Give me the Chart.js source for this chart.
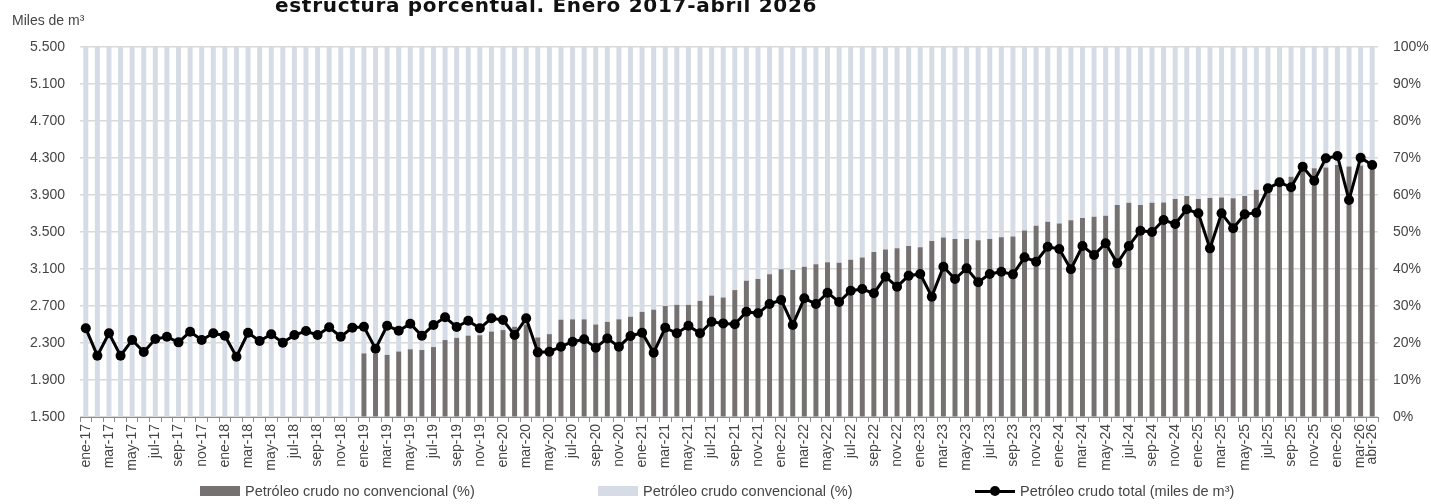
<!DOCTYPE html>
<html lang="es">
<head>
<meta charset="utf-8">
<title>Producción de petróleo crudo</title>
<script src="https://cdn.jsdelivr.net/npm/chart.js@4.4.1/dist/chart.umd.min.js"></script>
<style>
  html, body { margin: 0; padding: 0; background: #fff; }
  body { width: 1431px; height: 504px; overflow: hidden; position: relative;
         font-family: 'Liberation Sans', Arial, sans-serif; color: #454545; }
  #wrap { position: absolute; left: 0; top: 0; width: 1431px; height: 504px; }
  #titulo { position: absolute; left: 275px; top: -5px; font: 700 20px/20px 'DejaVu Sans', sans-serif;
            letter-spacing: 0.7px; color: #111; white-space: nowrap; }
  #unidad { position: absolute; left: 12px; top: 12px; font-size: 14px; }
  #leyenda { position: absolute; left: 200px; top: 483px; display: flex; font-size: 14.5px; }
  #leyenda .item { display: flex; align-items: center; white-space: nowrap; }
  #leyenda .caja { width: 40px; height: 10px; margin-right: 5px; }
  #leyenda .linea { width: 40px; height: 12px; margin-right: 5px; position: relative; }
  #leyenda .linea::before { content: ''; position: absolute; left: 0; right: 0; top: 5px; height: 3px; background: #000; }
  #leyenda .linea::after { content: ''; position: absolute; left: 15px; top: 1px; width: 10px; height: 10px; border-radius: 50%; background: #000; }
</style>
</head>
<body>
<div id="wrap"><canvas id="grafico"></canvas></div>
<div id="titulo">estructura porcentual. Enero 2017-abril 2026</div>
<div id="unidad">Miles de m³</div>
<div id="leyenda"></div>
<script>
// Meses (ene-17 a abr-26)
const meses = [
  'ene-17','feb-17','mar-17','abr-17','may-17','jun-17','jul-17','ago-17','sep-17','oct-17','nov-17','dic-17',
  'ene-18','feb-18','mar-18','abr-18','may-18','jun-18','jul-18','ago-18','sep-18','oct-18','nov-18','dic-18',
  'ene-19','feb-19','mar-19','abr-19','may-19','jun-19','jul-19','ago-19','sep-19','oct-19','nov-19','dic-19',
  'ene-20','feb-20','mar-20','abr-20','may-20','jun-20','jul-20','ago-20','sep-20','oct-20','nov-20','dic-20',
  'ene-21','feb-21','mar-21','abr-21','may-21','jun-21','jul-21','ago-21','sep-21','oct-21','nov-21','dic-21',
  'ene-22','feb-22','mar-22','abr-22','may-22','jun-22','jul-22','ago-22','sep-22','oct-22','nov-22','dic-22',
  'ene-23','feb-23','mar-23','abr-23','may-23','jun-23','jul-23','ago-23','sep-23','oct-23','nov-23','dic-23',
  'ene-24','feb-24','mar-24','abr-24','may-24','jun-24','jul-24','ago-24','sep-24','oct-24','nov-24','dic-24',
  'ene-25','feb-25','mar-25','abr-25','may-25','jun-25','jul-25','ago-25','sep-25','oct-25','nov-25','dic-25',
  'ene-26','feb-26','mar-26','abr-26'
];

// Petróleo crudo total, miles de m³
const totalMiles = [
  2459, 2163, 2405, 2163, 2332, 2203, 2343, 2368, 2307, 2422, 2332, 2405,
  2379, 2152, 2411, 2322, 2394, 2304, 2386, 2430, 2386, 2470, 2368, 2466,
  2476, 2238, 2487, 2433, 2508, 2378, 2495, 2578, 2473, 2541, 2459, 2567,
  2549, 2386, 2567, 2199, 2206, 2260, 2314, 2340, 2249, 2350, 2260, 2376,
  2411, 2195, 2466, 2405, 2487, 2405, 2530, 2512, 2502, 2638, 2621, 2721,
  2765, 2495, 2783, 2721, 2844, 2743, 2865, 2883, 2837, 3017, 2909, 3028,
  3046, 2801, 3125, 2992, 3107, 2956, 3046, 3071, 3042, 3226, 3179, 3341,
  3316, 3097, 3349, 3251, 3378, 3161, 3349, 3514, 3500, 3630, 3586, 3745,
  3702, 3323, 3702, 3540, 3691, 3709, 3972, 4037, 3983, 4206, 4055, 4297,
  4322, 3846, 4303, 4224
];

// Participación del crudo no convencional (%)
const noConvencional = [
  0, 0, 0, 0, 0, 0, 0, 0, 0, 0, 0, 0,
  0, 0, 0, 0, 0, 0, 0, 0, 0, 0, 0, 0,
  17.2, 17.2, 16.8, 17.7, 18.3, 18.1, 18.9, 20.8, 21.4, 22.0, 22.1, 23.1,
  23.5, 24.4, 25.0, 21.5, 22.4, 26.3, 26.4, 26.4, 25.0, 25.7, 26.4, 27.1,
  28.4, 29.0, 30.0, 30.3, 30.3, 31.4, 32.8, 32.3, 34.3, 36.8, 37.3, 38.6,
  39.9, 39.7, 40.6, 41.3, 41.8, 41.7, 42.5, 43.1, 44.6, 45.3, 45.6, 46.2,
  45.9, 47.6, 48.5, 48.1, 48.1, 47.8, 48.1, 48.6, 48.8, 50.4, 51.7, 52.8,
  52.3, 53.2, 53.8, 54.1, 54.4, 57.3, 57.9, 57.3, 57.9, 58.0, 58.9, 59.7,
  58.9, 59.2, 59.3, 59.1, 59.7, 61.4, 62.7, 64.0, 64.9, 66.5, 67.2, 67.4,
  68.1, 67.7, 68.0, 67.4
];

// Participación del crudo convencional (%)
const convencional = [
  100, 100, 100, 100, 100, 100, 100, 100, 100, 100, 100, 100,
  100, 100, 100, 100, 100, 100, 100, 100, 100, 100, 100, 100,
  82.8, 82.8, 83.2, 82.3, 81.7, 81.9, 81.1, 79.2, 78.6, 78.0, 77.9, 76.9,
  76.5, 75.6, 75.0, 78.5, 77.6, 73.7, 73.6, 73.6, 75.0, 74.3, 73.6, 72.9,
  71.6, 71.0, 70.0, 69.7, 69.7, 68.6, 67.2, 67.7, 65.7, 63.2, 62.7, 61.4,
  60.1, 60.3, 59.4, 58.7, 58.2, 58.3, 57.5, 56.9, 55.4, 54.7, 54.4, 53.8,
  54.1, 52.4, 51.5, 51.9, 51.9, 52.2, 51.9, 51.4, 51.2, 49.6, 48.3, 47.2,
  47.7, 46.8, 46.2, 45.9, 45.6, 42.7, 42.1, 42.7, 42.1, 42.0, 41.1, 40.3,
  41.1, 40.8, 40.7, 40.9, 40.3, 38.6, 37.3, 36.0, 35.1, 33.5, 32.8, 32.6,
  31.9, 32.3, 32.0, 32.6
];

const ejeMiles = { min: 1500, max: 5500, paso: 400 };
const ejePct = { min: 0, max: 100, paso: 10 };

const gris = '#767171';
const celeste = '#D6DCE5';
const texto = '#454545';
const fuente = { family: "'Liberation Sans', Arial, sans-serif", size: 14 };

function miles(v) {
  return String(v).replace(/\B(?=(\d{3})+(?!\d))/g, '.');
}

const ctx = document.getElementById('grafico');

const grafico = new Chart(ctx, {
  type: 'bar',
  data: {
    labels: meses,
    datasets: [
      {
        type: 'line',
        label: 'Petróleo crudo total (miles de m³)',
        data: totalMiles,
        yAxisID: 'y',
        borderColor: '#000',
        backgroundColor: '#000',
        borderWidth: 3,
        pointRadius: 5,
        pointBorderWidth: 0,
        pointBackgroundColor: '#000',
        tension: 0,
        order: 0
      },
      {
        label: 'Petróleo crudo no convencional (%)',
        data: noConvencional,
        yAxisID: 'y1',
        backgroundColor: gris,
        barPercentage: 0.43,
        categoryPercentage: 1,
        order: 1
      },
      {
        label: 'Petróleo crudo convencional (%)',
        data: convencional,
        yAxisID: 'y1',
        backgroundColor: celeste,
        barPercentage: 0.43,
        categoryPercentage: 1,
        order: 2
      }
    ]
  },
  options: {
    responsive: true,
    maintainAspectRatio: false,
    animation: false,
    layout: { padding: { top: 47, left: 0, right: 0, bottom: 0 } },
    scales: {
      x: {
        stacked: true,
        grid: { display: true, drawOnChartArea: false, drawTicks: true, tickLength: 5, color: '#8c8c8c', offset: true },
        border: { display: true, color: '#8c8c8c', width: 1 },
        ticks: {
          autoSkip: false,
          maxRotation: 90,
          minRotation: 90,
          padding: 2,
          color: texto,
          font: fuente,
          callback: function(v, i) {
            return (i % 2 === 0 || i === meses.length - 1) ? meses[i] : '';
          }
        },
        afterFit: function(s) { s.height = 87; }
      },
      y: {
        position: 'left',
        min: ejeMiles.min,
        max: ejeMiles.max,
        grid: { color: '#d9d9d9', lineWidth: 1.5, drawTicks: false },
        border: { display: false },
        ticks: {
          stepSize: ejeMiles.paso,
          padding: 15,
          color: texto,
          font: fuente,
          callback: function(v) { return miles(v); }
        },
        afterFit: function(s) { s.width = 80; }
      },
      y1: {
        position: 'right',
        stacked: true,
        min: ejePct.min,
        max: ejePct.max,
        grid: { drawOnChartArea: false, drawTicks: false },
        border: { display: false },
        ticks: {
          stepSize: ejePct.paso,
          padding: 15,
          color: texto,
          font: fuente,
          callback: function(v) { return v + '%'; }
        },
        afterFit: function(s) { s.width = 53; }
      }
    },
    plugins: {
      legend: { display: false },
      tooltip: { enabled: true }
    }
  }
});

// leyenda en HTML, en el orden barras oscuras, barras claras, línea
const leyenda = document.getElementById('leyenda');
const anchos = [398, 377, null];
[1, 2, 0].forEach(function(idx, k) {
  const ds = grafico.data.datasets[idx];
  const item = document.createElement('div');
  item.className = 'item';
  if (anchos[k]) item.style.width = anchos[k] + 'px';
  const marca = document.createElement('span');
  if (ds.type === 'line') {
    marca.className = 'linea';
  } else {
    marca.className = 'caja';
    marca.style.background = ds.backgroundColor;
  }
  const txt = document.createElement('span');
  txt.textContent = ds.label;
  item.appendChild(marca);
  item.appendChild(txt);
  leyenda.appendChild(item);
});
</script>
</body>
</html>
